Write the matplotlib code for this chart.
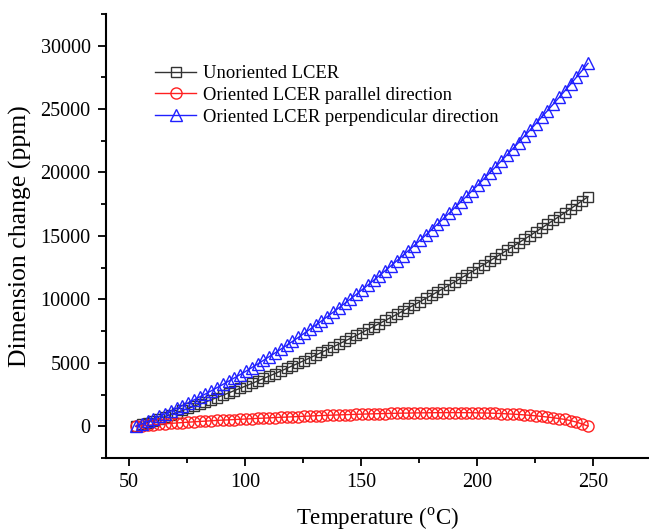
import matplotlib
matplotlib.use("Agg")
import matplotlib.pyplot as plt
from matplotlib.ticker import MultipleLocator

plt.rcParams['font.family'] = ['Liberation Serif', 'DejaVu Serif']
plt.rcParams['mathtext.fontset'] = 'custom'
plt.rcParams['mathtext.rm'] = 'Liberation Serif'

# temperature (oC)
temp = [53, 55.5, 58, 60.5, 63, 65.5, 68, 70.5, 73, 75.5,
        78, 80.5, 83, 85.5, 88, 90.5, 93, 95.5, 98, 100.5,
        103, 105.5, 108, 110.5, 113, 115.5, 118, 120.5, 123, 125.5,
        128, 130.5, 133, 135.5, 138, 140.5, 143, 145.5, 148, 150.5,
        153, 155.5, 158, 160.5, 163, 165.5, 168, 170.5, 173, 175.5,
        178, 180.5, 183, 185.5, 188, 190.5, 193, 195.5, 198, 200.5,
        203, 205.5, 208, 210.5, 213, 215.5, 218, 220.5, 223, 225.5,
        228, 230.5, 233, 235.5, 238, 240.5, 243, 245.5, 248]

# dimension change (ppm)
unoriented = [0, 150, 300, 450, 610, 760, 920, 1080, 1250, 1410,
              1580, 1750, 1920, 2100, 2270, 2450, 2630, 2820, 3000, 3190,
              3380, 3570, 3770, 3960, 4160, 4360, 4560, 4770, 4970, 5180,
              5390, 5610, 5820, 6040, 6260, 6480, 6710, 6930, 7160, 7390,
              7630, 7860, 8100, 8340, 8580, 8820, 9070, 9320, 9570, 9820,
              10080, 10330, 10590, 10850, 11120, 11380, 11650, 11920, 12190, 12470,
              12740, 13020, 13300, 13590, 13870, 14160, 14450, 14740, 15030, 15330,
              15630, 15930, 16230, 16530, 16840, 17150, 17460, 17780, 18090]

parallel = [0, 40, 80, 120, 160, 195, 230, 265, 295, 325,
            355, 385, 410, 440, 465, 490, 510, 535, 555, 580,
            600, 625, 645, 665, 690, 710, 730, 750, 770, 790,
            810, 830, 850, 865, 885, 900, 915, 930, 945, 960,
            975, 985, 1000, 1010, 1020, 1030, 1040, 1045, 1055, 1060,
            1065, 1070, 1075, 1075, 1080, 1080, 1075, 1075, 1070, 1060,
            1050, 1040, 1025, 1005, 985, 960, 935, 900, 865, 825,
            780, 730, 675, 610, 545, 450, 330, 180, 20]

perpendicular = [0, 190, 380, 580, 780, 980, 1190, 1410, 1630, 1850,
                 2080, 2320, 2550, 2800, 3050, 3300, 3560, 3820, 4080, 4350,
                 4630, 4910, 5200, 5490, 5780, 6080, 6380, 6690, 7000, 7320,
                 7640, 7970, 8300, 8640, 8980, 9330, 9680, 10030, 10390, 10760,
                 11120, 11500, 11880, 12260, 12650, 13040, 13440, 13840, 14240, 14650,
                 15070, 15490, 15920, 16350, 16780, 17220, 17660, 18110, 18560, 19020,
                 19480, 19950, 20420, 20900, 21380, 21860, 22350, 22850, 23350, 23850,
                 24360, 24870, 25390, 25910, 26440, 26970, 27510, 28050, 28600]

fig = plt.figure(figsize=(6.49, 5.32), dpi=100)
ax = fig.add_axes([0.163, 0.139, 0.836, 0.835])

ax.plot(temp, unoriented, color='#333333', lw=1, marker='s', ms=7.5,
        mfc='none', mec='#333333', mew=1, label='Unoriented LCER')
ax.plot(temp, parallel, color='#ff2020', lw=1, marker='o', ms=8,
        mfc='none', mec='#ff2020', mew=1, label='Oriented LCER parallel direction')
ax.plot(temp, perpendicular, color='#2020ff', lw=1, marker='^', ms=8.5,
        mfc='none', mec='#2020ff', mew=1, label='Oriented LCER perpendicular direction')

ax.set_xlim(40, 274)
ax.set_ylim(-2500, 32500)
ax.xaxis.set_major_locator(MultipleLocator(50))
ax.xaxis.set_minor_locator(MultipleLocator(25))
ax.yaxis.set_major_locator(MultipleLocator(5000))
ax.yaxis.set_minor_locator(MultipleLocator(2500))

for s in ['top', 'right']:
    ax.spines[s].set_visible(False)
for s in ['left', 'bottom']:
    ax.spines[s].set_linewidth(1.5)
ax.tick_params(which='major', direction='out', length=6, width=1.3, labelsize=14.5, pad=5)
ax.tick_params(which='minor', direction='out', length=3.5, width=1.3)

ax.set_xlabel(r'Temperature ($^{\mathrm{o}}$C)', fontsize=16.5, labelpad=10)
ax.set_ylabel('Dimension change (ppm)', fontsize=18.5, labelpad=6)

ax.legend(loc='upper left', bbox_to_anchor=(0.06, 0.922), frameon=False,
          fontsize=13.4, handlelength=2.2, handletextpad=0.4, labelspacing=0.25)

fig.savefig('out.png', dpi=100)
